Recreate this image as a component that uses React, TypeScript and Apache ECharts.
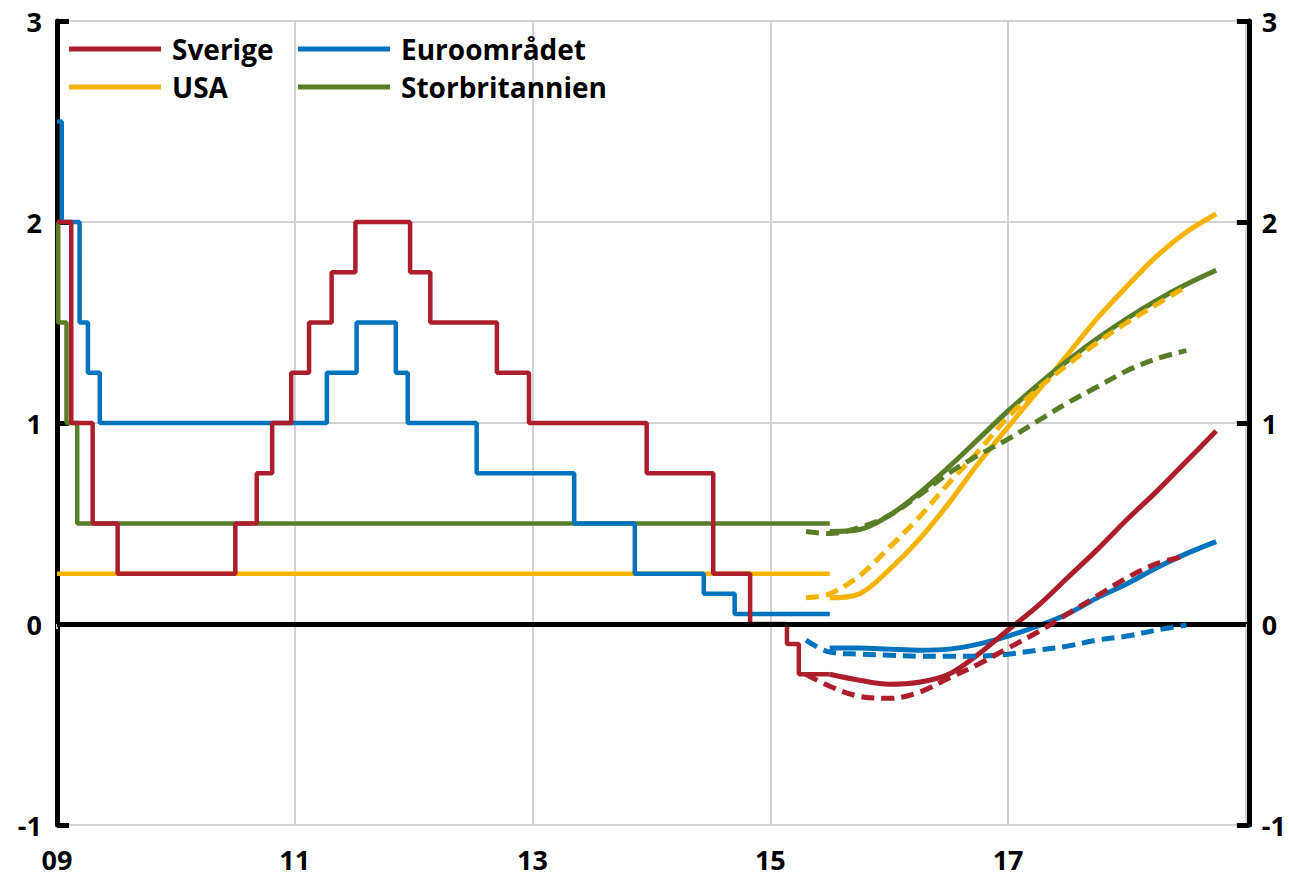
import React, { useEffect, useRef } from "react";
import * as echarts from "echarts";

// ---------- Data ----------
const X0 = 2009; // first year on the x axis
const xTickYears = ["09", "11", "13", "15", "17", ""];

// Policy rate history (time of change, new level)
const seHistT = [2009.0, 2009.12, 2009.3, 2009.51, 2010.5, 2010.68, 2010.81, 2010.97, 2011.12, 2011.31, 2011.51, 2011.97, 2012.14, 2012.7, 2012.97, 2013.96, 2014.52, 2014.83, 2015.14, 2015.24, 2015.5];
const seHistV = [2.0, 1.0, 0.5, 0.25, 0.5, 0.75, 1.0, 1.25, 1.5, 1.75, 2.0, 1.75, 1.5, 1.25, 1.0, 0.75, 0.25, 0.0, -0.1, -0.25, -0.25];

const euHistT = [2009.0, 2009.04, 2009.19, 2009.26, 2009.36, 2011.27, 2011.52, 2011.85, 2011.95, 2012.53, 2013.35, 2013.86, 2014.44, 2014.7, 2015.5];
const euHistV = [2.5, 2.0, 1.5, 1.25, 1.0, 1.25, 1.5, 1.25, 1.0, 0.75, 0.5, 0.25, 0.15, 0.05, 0.05];

const usHistT = [2009.0, 2015.5];
const usHistV = [0.25, 0.25];

const gbHistT = [2009.0, 2009.01, 2009.08, 2009.17, 2015.5];
const gbHistV = [2.0, 1.5, 1.0, 0.5, 0.5];

// Forward-rate based expectations (solid = current, dashed = earlier)
const fcT = [2015.5, 2015.75, 2016.0, 2016.25, 2016.5, 2016.75, 2017.0, 2017.25, 2017.5, 2017.75, 2018.0, 2018.25, 2018.5, 2018.75];
const dashT = [2015.3, 2015.5, 2015.75, 2016.0, 2016.25, 2016.5, 2016.75, 2017.0, 2017.25, 2017.5, 2017.75, 2018.0, 2018.25, 2018.5];

const seFc = [-0.25, -0.28, -0.3, -0.29, -0.25, -0.15, -0.03, 0.09, 0.23, 0.37, 0.52, 0.66, 0.81, 0.96];
const seDash = [-0.25, -0.31, -0.36, -0.37, -0.34, -0.27, -0.2, -0.12, -0.04, 0.05, 0.14, 0.23, 0.3, 0.34];

const euFc = [-0.12, -0.12, -0.125, -0.13, -0.125, -0.1, -0.06, -0.01, 0.05, 0.13, 0.2, 0.28, 0.35, 0.41];
const euDash = [-0.08, -0.14, -0.15, -0.155, -0.16, -0.16, -0.16, -0.15, -0.13, -0.11, -0.08, -0.06, -0.03, -0.005];

const usFc = [0.13, 0.15, 0.27, 0.42, 0.6, 0.8, 0.98, 1.16, 1.34, 1.52, 1.68, 1.83, 1.95, 2.04];
const usDash = [0.13, 0.15, 0.24, 0.38, 0.53, 0.7, 0.86, 1.03, 1.17, 1.29, 1.4, 1.5, 1.59, 1.68];

const gbFc = [0.46, 0.47, 0.54, 0.65, 0.78, 0.92, 1.06, 1.19, 1.31, 1.42, 1.52, 1.61, 1.69, 1.76];
const gbDash = [0.46, 0.45, 0.48, 0.54, 0.64, 0.75, 0.84, 0.92, 1.01, 1.1, 1.18, 1.26, 1.32, 1.36];

const legendNames = ["Sverige", "Euroområdet", "USA", "Storbritannien"];

// ---------- Styles ----------
const RED = "#AD1E2C";
const BLUE = "#0073BE";
const YELLOW = "#F3B300";
const GREEN = "#5A7D28";
const GRID = "#D2D2D2";
const FONT = '"Open Sans", "Noto Sans", sans-serif';

const zip = (t: number[], v: number[]) => t.map((x, i) => [x - X0, v[i]]);

export default function App() {
  const ref = useRef<HTMLDivElement>(null);

  useEffect(() => {
    if (!ref.current) return;
    const chart = echarts.init(ref.current, undefined, { renderer: "svg" });

    const hist = (name: string, t: number[], v: number[], color: string) => ({
      name,
      type: "line",
      step: "end",
      data: zip(t, v),
      showSymbol: false,
      lineStyle: { color, width: 4.5 },
      itemStyle: { color },
      z: 2,
    });
    const fc = (name: string, t: number[], v: number[], color: string, dashed: boolean) => ({
      name,
      type: "line",
      smooth: 0.35,
      data: zip(t, v),
      showSymbol: false,
      lineStyle: { color, width: 5, type: dashed ? [13, 7] : "solid", cap: "butt" },
      itemStyle: { color },
      z: dashed ? 5 : 4,
    });

    const axisLabel = {
      fontSize: 27,
      fontWeight: "bold",
      fontFamily: FONT,
      color: "#000",
    };

    const yBase = {
      type: "value",
      min: -1,
      max: 3,
      interval: 1,
      offset: 2,
      axisLine: { show: true, lineStyle: { color: "#000", width: 5 } },
      axisTick: { show: true, inside: true, length: 12, lineStyle: { color: "#000", width: 5 } },
      axisLabel: { ...axisLabel, margin: 13 },
    };

    const legendRows = [
      { name: legendNames[0], color: RED, x: 69, y: 49 },
      { name: legendNames[1], color: BLUE, x: 298, y: 49 },
      { name: legendNames[2], color: YELLOW, x: 69, y: 87 },
      { name: legendNames[3], color: GREEN, x: 298, y: 87 },
    ];
    const graphic: any[] = [];
    legendRows.forEach((r) => {
      graphic.push({
        type: "line",
        shape: { x1: r.x, y1: r.y, x2: r.x + 92, y2: r.y },
        style: { stroke: r.color, lineWidth: 5 },
        z: 10,
      });
      graphic.push({
        type: "text",
        x: r.x + 103,
        y: r.y,
        style: {
          text: r.name,
          fontSize: 28,
          fontWeight: "bold",
          fontFamily: FONT,
          fill: "#000",
          verticalAlign: "middle",
          align: "left",
        },
        z: 10,
      });
    });

    chart.setOption({
      animation: false,
      backgroundColor: "#fff",
      grid: { left: 57, right: 43, top: 21, bottom: 52, containLabel: false },
      xAxis: {
        type: "value",
        min: 0,
        max: 10,
        interval: 2,
        axisLine: { show: false },
        axisTick: { show: true, length: 5, lineStyle: { color: GRID, width: 2 } },
        axisLabel: {
          ...axisLabel,
          margin: 21,
          formatter: (v: number) => xTickYears[Math.round(v / 2)] ?? "",
        },
        splitLine: { show: true, lineStyle: { color: GRID, width: 2 } },
      },
      yAxis: [
        { ...yBase, position: "left", splitLine: { show: true, lineStyle: { color: GRID, width: 2 } } },
        { ...yBase, position: "right", offset: 3, splitLine: { show: false } },
      ],
      graphic,
      series: [
        {
          name: "zero",
          type: "line",
          data: [],
          z: 3,
          markLine: {
            silent: true,
            symbol: ["none", "none"],
            label: { show: false },
            lineStyle: { color: "#000", width: 5, type: "solid" },
            data: [{ yAxis: 0 }],
          },
        },
        hist("USA", usHistT, usHistV, YELLOW),
        hist("Storbritannien", gbHistT, gbHistV, GREEN),
        hist("Euroområdet", euHistT, euHistV, BLUE),
        hist("Sverige", seHistT, seHistV, RED),
        fc("USA prognos", fcT, usFc, YELLOW, false),
        fc("Storbritannien prognos", fcT, gbFc, GREEN, false),
        fc("Euroområdet prognos", fcT, euFc, BLUE, false),
        fc("Sverige prognos", fcT, seFc, RED, false),
        fc("USA tidigare", dashT, usDash, YELLOW, true),
        fc("Storbritannien tidigare", dashT, gbDash, GREEN, true),
        fc("Euroområdet tidigare", dashT, euDash, BLUE, true),
        fc("Sverige tidigare", dashT, seDash, RED, true),
      ],
    });

    return () => chart.dispose();
  }, []);

  return (
    <div
      ref={ref}
      style={{ position: "fixed", left: 0, top: 0, width: 1289, height: 877, background: "#fff" }}
    />
  );
}
